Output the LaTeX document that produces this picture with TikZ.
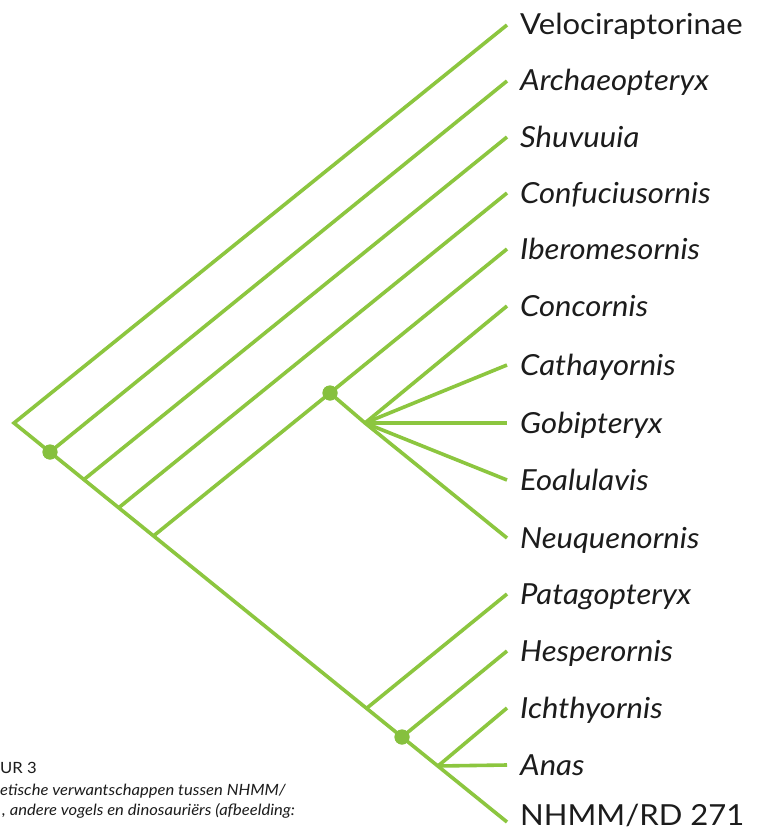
\documentclass[tikz,border=0pt]{standalone}
\usepackage{fontspec}
\setmainfont{Lato}[FakeStretch=1.07]
\definecolor{branch}{HTML}{8CC63F}
\definecolor{dotgreen}{HTML}{86C03E}
\definecolor{ink}{HTML}{1C1C1C}
\begin{document}
\begin{tikzpicture}[x=1pt,y=-1pt,
  edge/.style={draw=branch,line width=3.6pt,line cap=butt,line join=miter},
  clade/.style={circle,fill=dotgreen,inner sep=0pt,minimum size=15pt},
  taxon/.style={anchor=base west,text=ink,font=\fontsize{29}{31}\selectfont\itshape,inner sep=0pt},
  taxonup/.style={taxon,font=\fontsize{29}{31}\selectfont},
  caption/.style={anchor=base west,text=ink,inner sep=0pt,font=\fontsize{15.5}{18}\selectfont\itshape}]
\useasboundingbox (0,0) rectangle (760,832);
\fill[white] (0,0) rectangle (760,832);
% leaf ends
\coordinate (lV)  at (507,25);
\coordinate (lA)  at (507,81);
\coordinate (lS)  at (507,137);
\coordinate (lC)  at (507,193);
\coordinate (lI)  at (507,249);
\coordinate (lCo) at (507,306);
\coordinate (lCa) at (507,365);
\coordinate (lG)  at (507,423);
\coordinate (lE)  at (507,480);
\coordinate (lN)  at (507,538);
\coordinate (lP)  at (507,594);
\coordinate (lH)  at (507,651);
\coordinate (lIc) at (507,708);
\coordinate (lAn) at (507,765);
\coordinate (lNH) at (507,822);
% internal points
\coordinate (root) at (14,423);
\coordinate (bS)  at (84,479.5);
\coordinate (bC)  at (119,507.5);
\coordinate (bI)  at (154,535.5);
\coordinate (poly) at (365,423);
\coordinate (bP)  at (367,708);
\coordinate (bIc) at (438,766);
\node[clade] (nA) at (50,452) {};
\node[clade] (nIn) at (330,393) {};
\node[clade] (nH) at (402,737) {};
% edges
\draw[edge] (lV) -- (root) -- (lNH);
\draw[edge] (nA.center) -- (lA);
\draw[edge] (bS) -- (lS);
\draw[edge] (bC) -- (lC);
\draw[edge] (bI) -- (nIn.center) -- (lI);
\draw[edge] (nIn.center) -- (poly) -- (lN);
\draw[edge] (poly) -- (lCo);
\draw[edge] (poly) -- (lCa);
\draw[edge] (poly) -- (lG);
\draw[edge] (poly) -- (lE);
\draw[edge] (bP) -- (lP);
\draw[edge] (nH.center) -- (lH);
\draw[edge] (bIc) -- (lIc);
\draw[edge] (bIc) -- (lAn);
% redraw dots on top
\node[clade] at (nA) {};
\node[clade] at (nIn) {};
\node[clade] at (nH) {};
% labels
\node[taxonup] (tV) at (520,35) {Velociraptorinae};
\node[taxon] (tA) at (520,91) {Archaeopteryx};
\node[taxon] (tS) at (520,147) {Shuvuuia};
\node[taxon] (tC) at (520,203) {Confuciusornis};
\node[taxon] (tI) at (520,259) {Iberomesornis};
\node[taxon] (tCo) at (520,316) {Concornis};
\node[taxon] (tCa) at (520,375) {Cathayornis};
\node[taxon] (tG) at (520,433) {Gobipteryx};
\node[taxon] (tE) at (520,490) {Eoalulavis};
\node[taxon] (tN) at (520,548) {Neuquenornis};
\node[taxon] (tP) at (520,604) {Patagopteryx};
\node[taxon] (tH) at (520,661) {Hesperornis};
\node[taxon] (tIc) at (520,718) {Ichthyornis};
\node[taxon] (tAn) at (520,775) {Anas};
\node[taxonup] (tNH) at (520,825) {NHMM/RD 271};
% caption (cut off at the left edge)
\node[caption,font=\fontsize{15.5}{18}\selectfont] (c1) at (0,773) {UR 3};
\node[caption] (c2) at (0,795) {etische verwantschappen tussen NHMM/};
\node[caption] (c3) at (2,815) {, andere vogels en dinosauriërs (afbeelding:};
\end{tikzpicture}
\end{document}
